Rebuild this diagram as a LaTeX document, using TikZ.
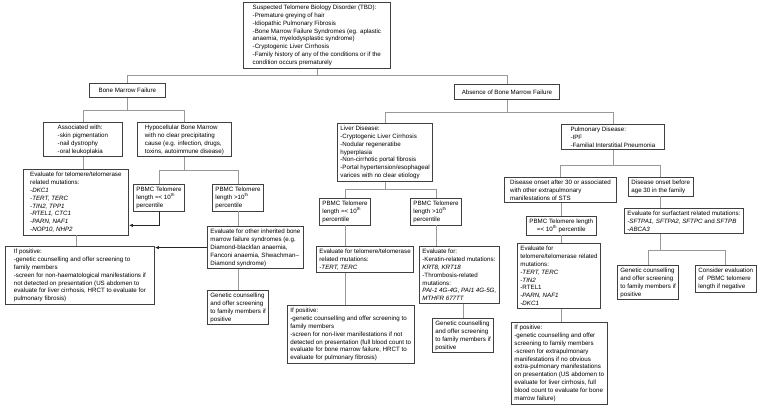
\documentclass[tikz,border=0pt]{standalone}
\usepackage{fontspec}
\setmainfont{Liberation Sans}
\usetikzlibrary{arrows.meta,calc,positioning}

\begin{document}
\begin{tikzpicture}[x=1pt,y=-1pt,>=Stealth,
  box/.style={draw=black!75,line width=0.8pt,align=left,anchor=north west,inner xsep=3pt,inner ysep=2.5pt,font=\fontsize{6.2}{7.9}\selectfont},
  cbox/.style={box,align=center},
  link/.style={draw=black!40,line width=0.7pt},
  arr/.style={draw=black!85,line width=0.7pt,-{Latex[length=4pt,width=3.2pt]}}]
\useasboundingbox (0,0) rectangle (760,408);

\node[box,minimum width=147pt] (tbd) at (243,2) {Suspected Telomere Biology Disorder (TBD):\\-Premature greying of hair\\-Idiopathic Pulmonary Fibrosis\\-Bone Marrow Failure Syndromes (eg. aplastic\\anaemia, myelodysplastic syndrome)\\-Cryptogenic Liver Cirrhosis\\-Family history of any of the conditions or if the\\condition occurs prematurely};
\node[cbox,minimum width=76pt,minimum height=14pt] (bmf) at (89,83) {Bone Marrow Failure};
\node[cbox,minimum width=105pt,minimum height=15pt] (absence) at (454,84) {Absence of Bone Marrow Failure};

\node[box,minimum width=79pt] (assoc) at (43,122) {Associated with:\\-skin pigmentation\\-nail dystrophy\\-oral leukoplakia};
\node[box,minimum width=94pt] (hypo) at (137,122) {Hypocellular Bone Marrow\\with no clear precipitating\\cause (e.g. infection, drugs,\\toxins, autoimmune disease)};
\node[box,minimum width=105pt] (eval1) at (23,169) {Evaluate for telomere/telomerase\\related mutations:\\\textit{-DKC1}\\\textit{-TERT, TERC}\\\textit{-TIN2, TPP1}\\\textit{-RTEL1, CTC1}\\\textit{-PARN, NAF1}\\\textit{-NOP10, NHP2}};
\node[box] (pbmc1) at (133,184) {PBMC Telomere\\length =< 10\textsuperscript{th}\\percentile};
\node[box] (pbmc2) at (212,184) {PBMC Telomere\\length >10\textsuperscript{th}\\percentile};
\node[box,minimum width=149pt] (ifpos1) at (5,246) {If positive:\\-genetic counselling and offer screening to\\family members\\-screen for non-haematological manifestations if\\not detected on presentation (US abdomen to\\evaluate for liver cirrhosis, HRCT to evaluate for\\pulmonary fibrosis)};
\node[box] (other) at (207,226) {Evaluate for other inherited bone\\marrow failure syndromes (e.g.\\Diamond-blackfan anaemia,\\Fanconi anaemia, Shwachman--\\Diamond syndrome)};
\node[box] (gen1) at (207,290) {Genetic counselling\\and offer screening\\to family members if\\positive};

\node[box] (liver) at (337,123) {Liver Disease:\\-Cryptogenic Liver Cirrhosis\\-Nodular regeneratibe\\hyperplasia\\-Non-cirrhotic portal fibrosis\\-Portal hypertension/esophageal\\varices with no clear etiology};
\node[box] (pbmc3) at (319,198) {PBMC Telomere\\length =< 10\textsuperscript{th}\\percentile};
\node[box] (pbmc4) at (410,198) {PBMC Telomere\\length >10\textsuperscript{th}\\percentile};
\node[box] (evl) at (316,246) {Evaluate for telomere/telomerase\\related mutations:\\\textit{-TERT, TERC}};
\node[box] (kerat) at (419,246) {Evaluate for:\\-Keratin-related mutations:\\\textit{KRT8, KRT18}\\-Thrombosis-related\\mutations:\\\textit{PAI-1 4G-4G, PAI1 4G-5G,}\\\textit{MTHFR 677TT}};
\node[box] (ifpos2) at (287,305) {If positive:\\-genetic counselling and offer screening to\\family members\\-screen for non-liver manifestations if not\\detected on presentation (full blood count to\\evaluate for bone marrow failure, HRCT to\\evaluate for pulmonary fibrosis)};
\node[box] (gen2) at (432,318) {Genetic counselling\\and offer screening\\to family members if\\positive};

\node[box,minimum width=103pt] (pulm) at (561,124) {Pulmonary Disease:\\-IPF\\-Familial Interstitial Pneumonia};
\node[box,minimum width=112pt] (onset1) at (504,177) {Disease onset after 30 or associated\\with other extrapulmonary\\manifestations of STS};
\node[box] (onset2) at (628,177) {Disease onset before\\age 30 in the family};
\node[cbox,minimum width=67pt] (pbmc5) at (526,216) {PBMC Telomere length\\=< 10\textsuperscript{th} percentile};
\node[box] (evt) at (517,243) {Evaluate for\\telomere/telomerase related\\mutations:\\\textit{-TERT, TERC}\\\textit{-TIN2}\\-RTEL1\\\textit{-PARN, NAF1}\\\textit{-DKC1}};
\node[box] (ifpos3) at (511,322) {If positive:\\-genetic counselling and offer\\screening to family members\\-screen for extrapulmonary\\manifestations if no obvious\\extra-pulmonary manifestations\\on presentation (US abdomen to\\evaluate for liver cirrhosis, full\\blood count to evaluate for bone\\marrow failure)};
\node[box] (surf) at (624,208) {Evaluate for surfactant related mutations:\\\textit{-SFTPA1, SFTPA2, SFTPC} and \textit{SFTPB}\\\textit{-ABCA3}};
\node[box] (gen3) at (617,265) {Genetic counselling\\and offer screening\\to family members if\\positive};
\node[box] (cons) at (695,265) {Consider evaluation\\of\ \ PBMC telomere\\length if negative};

\draw[link] (tbd.south) -- ++(0,6) coordinate (b0);
\draw[link] (bmf.south) -- ++(0,13) coordinate (b1);
\draw[link] (hypo.south) -- ++(0,13) coordinate (b2);
\draw[link] (absence.south) -- ++(0,13) coordinate (b3);
\draw[link] (liver.south) -- ++(0,7) coordinate (b4);
\draw[link] (pulm.south) -- ++(0,15) coordinate (b5);
\draw[link] (onset2.south |- surf.south) -- ++(0,16) coordinate (b6);
\foreach \p/\a/\b in {b0/bmf/absence,b1/assoc/hypo,b2/pbmc1/pbmc2,b3/liver/pulm,b4/pbmc3/pbmc4,b5/onset1/onset2,b6/gen3/cons}
  \draw[link] (\a.north) |- (\p) -| (\b.north);

\draw[link] (assoc.south) -- (assoc.south |- eval1.north);
\draw[link] (eval1.south) -- (eval1.south |- ifpos1.north);
\draw[arr] (pbmc1.south) |- ([yshift=10pt]eval1.south east);
\draw[link] (pbmc2.south) -- (pbmc2.south |- other.north);
\draw[arr] (other.west) -- (other.west -| ifpos1.east);
\draw[link] (gen1.north |- other.south) -- (gen1.north);

\draw[link] (pbmc3.south) -- (pbmc3.south |- evl.north);
\draw[link] (pbmc3.south |- evl.south) -- (pbmc3.south |- ifpos2.north);
\draw[link] (pbmc4.south) -- (pbmc4.south |- kerat.north);
\draw[link] (gen2.north |- kerat.south) -- (gen2.north);

\draw[link] (pbmc5.north |- onset1.south) -- (pbmc5.north);
\draw[link] (pbmc5.south) -- (pbmc5.south |- evt.north);
\draw[link] (pbmc5.south |- evt.south) -- (pbmc5.south |- ifpos3.north);
\draw[link] (onset2.south) -- (onset2.south |- surf.north);
\end{tikzpicture}
\end{document}
